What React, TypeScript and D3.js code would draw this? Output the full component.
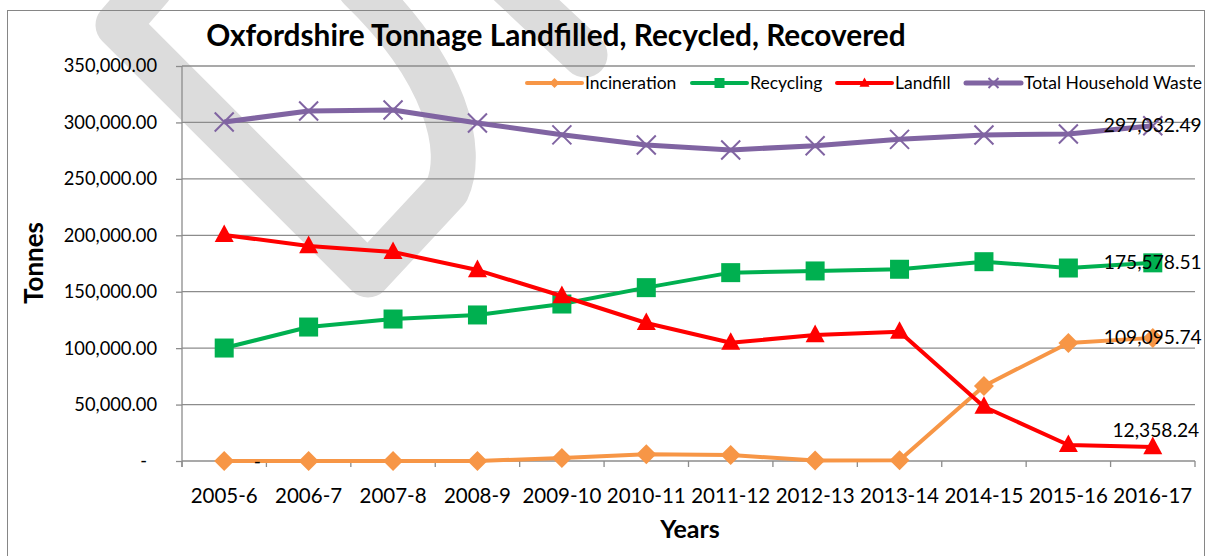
import React, { useRef, useEffect } from 'react';
import * as d3 from 'd3';

const years = ['2005-6', '2006-7', '2007-8', '2008-9', '2009-10', '2010-11', '2011-12', '2012-13', '2013-14', '2014-15', '2015-16', '2016-17'];
const incineration = [0, 0, 0, 0, 2700, 5900, 5300, 500, 700, 66500, 104600, 109095.74];
const recycling = [100100, 118700, 125800, 129400, 139100, 153600, 166900, 168400, 169900, 176600, 171000, 175578.51];
const landfill = [200300, 190500, 185200, 169200, 146200, 122300, 104800, 111600, 114600, 48100, 14200, 12358.24];
const totalWaste = [300400, 310100, 311000, 299500, 289000, 280000, 275600, 279400, 285000, 288900, 289700, 297032.49];
const yTicks = [0, 50000, 100000, 150000, 200000, 250000, 300000, 350000];

const series = [
  { name: 'Incineration', values: incineration, color: '#F79646', width: 4, marker: 'diamond' },
  { name: 'Recycling', values: recycling, color: '#00B050', width: 4, marker: 'square' },
  { name: 'Landfill', values: landfill, color: '#FF0000', width: 4, marker: 'triangle' },
  { name: 'Total Household Waste', values: totalWaste, color: '#8064A2', width: 5, marker: 'x' },
];

const W = 1205;
const H = 556;
const FONT = 'Lato, Carlito, "Open Sans", sans-serif';

const App = () => {
  const svgRef = useRef(null);

  useEffect(() => {
    const svg = d3.select(svgRef.current);
    svg.selectAll('*').remove();

    const margin = { top: 66, right: 10, bottom: 95, left: 182 };
    const x = d3.scaleBand().domain(years).range([margin.left, W - margin.right]);
    const y = d3.scaleLinear().domain([0, 350000]).range([H - margin.bottom, margin.top]);
    const cx = (i) => x(years[i]) + x.bandwidth() / 2;

    svg.append('rect').attr('width', W).attr('height', H).attr('fill', '#fff');

    // watermark
    const wm = svg.append('g').attr('fill', 'none').attr('stroke', '#DCDCDC')
      .attr('stroke-width', 45).attr('stroke-linejoin', 'round').attr('stroke-linecap', 'round');
    wm.append('path').attr('d', 'M 150 -12 L 118 25 L 368 275 L 447 190 C 465 150, 447 72, 360 -12');
    wm.append('path').attr('d', 'M 500 -25 L 585 55');

    // outer frame
    svg.append('rect').attr('x', 7.5).attr('y', 10.5).attr('width', W - 8).attr('height', H)
      .attr('fill', 'none').attr('stroke', '#868686').attr('stroke-width', 1);

    // gridlines
    svg.append('g').selectAll('line').data(yTicks.filter(d => d > 0)).join('line')
      .attr('x1', margin.left).attr('x2', W - margin.right)
      .attr('y1', d => y(d)).attr('y2', d => y(d))
      .attr('stroke', '#8C8C8C').attr('stroke-width', 1.3);

    // y axis
    const yAxis = svg.append('g').attr('transform', `translate(${margin.left},0)`)
      .call(d3.axisLeft(y).tickValues(yTicks).tickSize(6).tickPadding(19)
        .tickFormat(d => d === 0 ? '-' : d3.format(',.2f')(d)));
    yAxis.select('.domain').attr('stroke', '#8C8C8C').attr('stroke-width', 1.3)
      .attr('d', `M0,${y(350000)}V${y(0) + 6}`);
    yAxis.selectAll('.tick line').attr('stroke', '#8C8C8C').attr('stroke-width', 1.3);
    yAxis.selectAll('.tick text').attr('font-family', FONT).attr('font-size', 18.3).attr('fill', '#000')
      .attr('dx', d => d === 0 ? -10 : 0);

    // x axis
    const bounds = years.map(d => x(d)).concat([W - margin.right]);
    svg.append('line').attr('x1', margin.left).attr('x2', W - margin.right)
      .attr('y1', y(0)).attr('y2', y(0)).attr('stroke', '#8C8C8C').attr('stroke-width', 1.3);
    svg.append('g').selectAll('line').data(bounds).join('line')
      .attr('x1', d => d).attr('x2', d => d).attr('y1', y(0)).attr('y2', y(0) + 6)
      .attr('stroke', '#8C8C8C').attr('stroke-width', 1.3);
    svg.append('g').selectAll('text').data(years).join('text')
      .attr('x', d => x(d) + x.bandwidth() / 2).attr('y', y(0) + 42)
      .attr('text-anchor', 'middle').attr('font-family', FONT).attr('font-size', 20.5).text(d => d);

    // axis titles
    svg.append('text').attr('x', 690).attr('y', 538).attr('text-anchor', 'middle')
      .attr('font-family', FONT).attr('font-weight', 'bold').attr('font-size', 25).text('Years');
    svg.append('text').attr('transform', `translate(43,${263}) rotate(-90)`).attr('text-anchor', 'middle')
      .attr('font-family', FONT).attr('font-weight', 'bold').attr('font-size', 26).text('Tonnes');

    // title
    svg.append('text').attr('x', 556).attr('y', 46).attr('text-anchor', 'middle')
      .attr('font-family', FONT).attr('font-weight', 'bold').attr('font-size', 29.8)
      .text('Oxfordshire Tonnage Landfilled, Recycled, Recovered');

    const drawMarker = (g, type, px, py, color, s) => {
      if (type === 'diamond') {
        g.append('path').attr('d', `M${px},${py - s}L${px + s},${py}L${px},${py + s}L${px - s},${py}Z`).attr('fill', color);
      } else if (type === 'square') {
        g.append('rect').attr('x', px - s).attr('y', py - s).attr('width', 2 * s).attr('height', 2 * s).attr('fill', color);
      } else if (type === 'triangle') {
        g.append('path').attr('d', `M${px},${py - s * 1.1}L${px + s},${py + s * 0.75}L${px - s},${py + s * 0.75}Z`).attr('fill', color);
      } else {
        g.append('path').attr('d', `M${px - s},${py - s}L${px + s},${py + s}M${px - s},${py + s}L${px + s},${py - s}`)
          .attr('stroke', color).attr('stroke-width', 2).attr('fill', 'none');
      }
    };

    const line = d3.line().x((d, i) => cx(i)).y(d => y(d));

    series.forEach(s => {
      const g = svg.append('g');
      g.append('path').datum(s.values).attr('d', line).attr('fill', 'none')
        .attr('stroke', s.color).attr('stroke-width', s.width).attr('stroke-linejoin', 'round');
      s.values.forEach((v, i) => drawMarker(g, s.marker, cx(i), y(v), s.color, s.marker === 'diamond' ? 10 : 9.5));
    });

    // data labels on last point
    const last = years.length - 1;
    const fmt = d3.format(',.2f');
    const lbl = svg.append('g').attr('font-family', FONT).attr('font-size', 19.2).attr('text-anchor', 'middle');
    lbl.append('text').attr('x', cx(last)).attr('y', y(totalWaste[last]) + 6).text(fmt(totalWaste[last]));
    lbl.append('text').attr('x', cx(last)).attr('y', y(recycling[last]) + 6).text(fmt(recycling[last]));
    lbl.append('text').attr('x', cx(last)).attr('y', y(incineration[last]) + 6).text(fmt(incineration[last]));
    lbl.append('text').attr('x', cx(last) + 3).attr('y', y(landfill[last]) - 10).text(fmt(landfill[last]));
    lbl.append('text').attr('x', cx(0) + 33).attr('y', y(incineration[0]) + 7).text('-');

    // legend
    const legendX = [527, 692, 837, 966];
    series.forEach((s, i) => {
      const g = svg.append('g');
      const lx = legendX[i];
      g.append('line').attr('x1', lx).attr('x2', lx + 55).attr('y1', 83).attr('y2', 83)
        .attr('stroke', s.color).attr('stroke-width', s.width).attr('stroke-linecap', 'round');
      drawMarker(g, s.marker, lx + 27.5, 83, s.color, 5);
      g.append('text').attr('x', lx + 58).attr('y', 89).attr('font-family', FONT).attr('font-size', 17.5).text(s.name);
    });
  }, []);

  return (
    <svg ref={svgRef} width={W} height={H} style={{ display: 'block', position: 'absolute', left: 0, top: 0 }}></svg>
  );
};

export default App;
